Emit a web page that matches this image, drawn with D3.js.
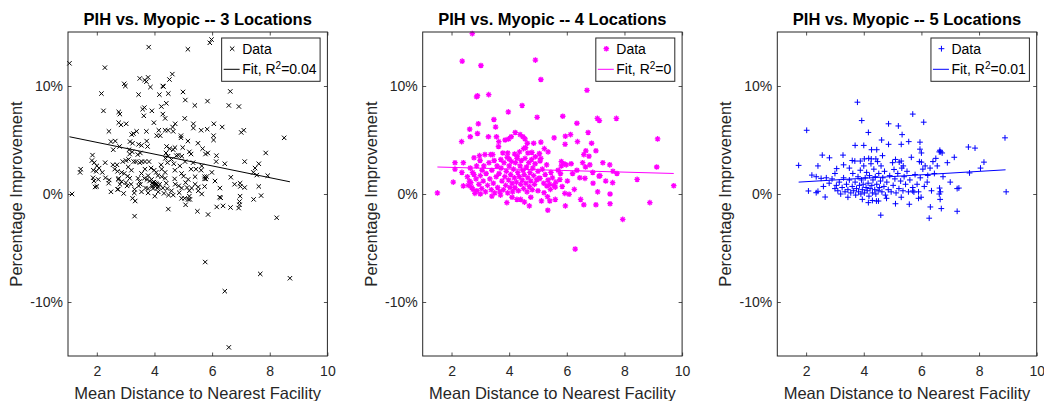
<!DOCTYPE html>
<html>
<head>
<meta charset="utf-8">
<script src="https://cdn.jsdelivr.net/npm/d3@7"></script>
<style>
  html, body { margin: 0; padding: 0; background: #fff; }
  svg { display: block; font-family: "Liberation Sans", Arial, Helvetica, sans-serif; }
</style>
</head>
<body>
<svg id="chart" width="1044" height="401"></svg>
<script>
// ---------------- DATA ----------------
const panelTitles = ["PIH vs. Myopic -- 3 Locations", "PIH vs. Myopic -- 4 Locations", "PIH vs. Myopic -- 5 Locations"];
const xTicks = [2, 4, 6, 8, 10];
const yTicks = [-10, 0, 10];
const yTickLabels = ["-10%", "0%", "10%"];
const xLabel = "Mean Distance to Nearest Facility";
const yLabel = "Percentage Improvement";
const legendData = "Data";
const fitR2 = ["0.04", "0", "0.01"];

// fit lines: [x0, x1], [y0, y1] (percent)
const fit3X = [1.05, 8.70], fit3Y = [5.3, 1.13];
const fit4X = [1.51, 9.71], fit4Y = [2.5, 1.9];
const fit5X = [1.74, 8.92], fit5Y = [1.1, 2.24];

// points [mean distance, % improvement]
const loc3 = [
[5.98,14.3],[5.92,14.0],[3.80,13.6],[5.16,13.4],[1.05,12.1],[2.28,11.7],
[3.49,10.7],[3.78,10.8],[3.72,10.4],[3.66,10.55],[2.95,10.2],[2.99,10.0],[4.62,11.1],[4.52,10.6],[4.29,10.0],[4.31,9.95],[3.86,9.9],
[2.16,9.3],[3.45,9.2],[4.17,9.2],[4.48,9.3],[4.99,9.45],[6.63,9.5],[5.07,8.7],
[2.23,7.7],[2.76,7.6],[2.80,7.4],[3.65,8.0],[3.59,7.85],[3.63,7.24],[3.91,7.7],[4.41,8.4],[4.24,8.1],[4.29,7.4],[4.37,7.0],[5.40,8.2],[5.84,8.6],[6.58,8.2],[6.93,8.1],
[2.76,6.6],[2.84,6.4],[3.02,6.5],[3.98,6.6],[4.72,6.5],[4.63,6.2],[5.05,7.0],[5.35,6.5],[5.35,6.1],[6.06,6.5],[6.35,6.2],
[2.42,5.8],[3.27,5.6],[3.38,5.8],[3.21,5.5],[3.72,5.8],[4.15,5.9],[4.37,5.9],[4.47,5.9],[4.65,5.8],[4.08,5.4],[4.20,5.4],[4.92,5.4],[4.92,5.2],[5.16,4.9],[5.62,5.9],[5.83,6.0],[6.05,5.4],[6.05,5.0],[7.01,5.7],[7.10,5.9],[8.5,5.2],
[2.49,4.85],[2.64,4.9],[3.15,4.85],[3.24,4.7],[3.45,4.6],[3.55,4.5],[3.73,4.9],[3.76,4.4],[2.57,4.1],[2.79,4.4],[3.12,4.1],[3.23,3.9],[3.14,3.7],[3.51,3.8],[3.42,3.65],
[4.42,4.4],[4.53,4.2],[4.40,3.8],[4.47,3.5],[4.38,3.3],[4.71,4.3],[4.65,4.1],[4.76,3.55],[4.83,3.6],[4.98,4.3],[4.95,3.5],[5.21,3.9],[5.27,3.7],[5.51,4.7],[5.67,4.2],[5.77,3.7],[5.85,3.8],[6.15,3.55],[6.14,3.0],[6.44,2.8],[7.13,3.0],[7.86,3.8],[7.62,2.8],[7.49,2.4],[7.43,2.0],[7.55,1.75],[7.93,1.7],
[1.85,3.6],[1.83,3.1],[1.91,2.9],[2.0,2.6],[2.29,2.9],[2.56,2.7],[2.70,2.7],[2.90,3.0],[3.01,3.1],[3.1,3.2],[3.28,3.0],[3.36,3.0],[3.49,2.9],[3.56,3.0],[3.67,3.0],[3.81,3.0],
[3.88,2.4],[3.99,2.2],[4.06,2.0],[4.12,1.7],[4.23,2.7],[4.45,2.9],[4.67,2.8],[4.88,2.6],[5.34,2.9],[5.27,2.3],[5.44,2.3],[5.62,2.2],[5.74,1.6],[5.78,1.4],
[1.44,2.3],[1.42,2.0],[1.88,2.2],[1.98,2.1],[2.08,2.4],[2.19,2.0],[1.87,1.5],[1.90,1.2],[2.05,1.35],[2.0,0.7],[1.94,0.65],[2.30,1.5],[2.43,1.3],[2.41,1.0],
[2.72,2.1],[2.76,1.45],[2.74,1.35],[2.80,0.9],[2.74,0.43],[2.86,1.15],[2.95,1.9],[3.01,1.05],[3.05,0.75],[3.07,1.65],[3.14,1.45],[3.19,0.9],[3.31,0.43],[3.30,0.1],[3.24,-0.4],[3.33,-0.65],
[3.43,1.45],[3.48,1.15],[3.45,0.75],[3.51,0.9],[2.49,0.2],[2.72,0.43],[2.93,0.05],[3.65,1.45],[3.74,1.35],[3.83,1.2],[3.69,0.55],[3.78,0.5],
[3.90,1.35],[3.93,1.05],[3.96,0.9],[4.0,0.8],[4.04,0.7],[3.95,0.5],[4.1,0.55],[4.14,0.65],[3.98,1.1],[4.02,1.0],[4.06,0.95],[4.08,0.85],[3.92,0.7],[4.18,0.9],
[4.37,2.0],[4.37,1.45],[4.41,1.0],[4.44,0.5],[4.29,0.55],[4.33,0.06],[4.49,-0.1],[4.65,-0.1],[4.70,1.4],[4.72,0.9],[4.84,0.75],[4.86,0.12],[5.01,1.65],[5.08,1.05],[5.13,0.6],[4.94,0.55],[5.05,-0.4],[5.21,0.3],[5.29,0.55],[5.21,-0.2],[5.23,-0.5],[5.08,-1.0],
[5.52,0.65],[5.74,1.4],[5.74,0.7],[5.81,1.6],[6.27,0.55],[6.26,-0.3],[6.30,-0.35],[6.65,1.55],[6.78,0.9],[6.97,1.0],[6.98,0.7],[7.13,0.6],[6.97,-0.2],[6.95,-0.7],[6.95,-1.0],[6.92,-1.3],[6.64,-1.25],[6.16,-1.2],[6.38,-1.1],[7.44,-0.5],[7.70,-0.15],[7.62,0.7],
[5.49,-1.6],[5.86,-1.9],[4.48,-1.4],[3.31,-2.05],[8.24,-2.2],[1.14,0.0],
[5.76,-6.3],[7.67,-7.4],[8.70,-7.8],[6.44,-9.0],[6.58,-14.2],
[3.09,2.5],[3.2,2.2],[2.62,2.3],[2.86,2.0],[3.55,1.9],[3.67,2.3],[3.78,1.7],[4.25,1.6],[4.25,2.3],[4.59,3.2],[4.71,2.2],[4.94,1.9],[5.06,3.0],[5.17,1.35],[5.41,1.6],[5.52,0.3],[5.64,0.0],[5.64,2.6],[5.99,2.0],[6.1,1.2],[5.17,-0.5],[4.94,-0.4],[4.59,0.3],[4.13,0.2],[4.01,-0.2],[3.78,0.1],[3.55,0.2],[5.41,0.9]
];

const loc4 = [
[2.72,14.85],[2.37,12.3],[3.02,11.9],[4.91,12.4],[5.10,10.6],[6.70,9.6],[2.87,9.0],[2.90,9.1],[3.29,9.2],[4.45,8.2],[3.97,7.6],[4.97,7.1],[5.86,7.2],[7.06,7.0],[7.13,6.8],[7.72,7.0],[3.47,6.9],[2.93,6.5],[2.63,6.0],[3.53,6.2],[2.90,5.6],[2.65,5.3],[2.35,4.85],[3.28,5.3],[3.56,5.3],[3.64,4.85],[3.63,4.4],[3.86,5.0],[3.98,5.1],[4.07,5.3],[4.21,5.7],[4.38,5.5],[4.48,5.3],[4.55,5.1],[4.63,4.7],[4.85,4.7],[5.1,4.8],[5.56,5.2],[5.95,5.35],[6.13,5.5],[6.35,6.55],[6.37,4.85],[5.94,4.6],[6.74,5.7],[6.86,4.7],[7.01,4.0],[6.66,4.0],[6.77,3.5],[6.59,3.65],[9.15,5.1],[9.12,2.5],[8.44,1.35],[9.71,0.77],[8.88,-0.8],[7.94,-2.35],[6.29,-5.1],[1.51,0.1],[2.06,1.1],[2.12,2.9],[2.41,2.9],[2.12,2.3],[2.36,2.0],
[2.41,0.75],[2.58,0.8],[2.67,1.05],[2.74,0.43],[2.81,0.06],[2.78,3.35],[2.97,3.55],[3.16,3.65],[3.36,3.65],[3.43,3.65],[2.65,2.4],[2.73,2.0],[2.87,2.6],[2.99,3.1],[3.06,2.2],
[3.71,3.2],[3.78,3.8],[3.95,3.8],[4.0,3.25],[4.19,3.7],[4.27,3.3],[4.36,3.9],[4.50,4.2],[4.57,4.3],[4.65,3.8],[4.79,3.85],[4.91,3.45],[5.05,3.75],[5.22,4.2],[5.35,3.9],[5.07,3.05],[5.07,1.45],[5.03,1.45],
[5.81,3.0],[5.90,2.8],[5.81,2.6],[5.98,2.7],[6.15,2.8],[5.76,1.35],[5.84,0.7],[5.93,0.06],[6.08,-0.03],[6.26,0.43],
[5.31,0.74],[5.43,0.43],[5.6,0.64],[5.21,0.12],[5.33,-0.25],[5.41,-0.64],[5.34,-1.5],[5.12,-0.64],[5.6,-0.5],[5.95,-1.1],[6.48,-0.5],[6.59,-1.0],[7.01,-1.0],[7.5,-0.9],[7.5,0.0],[7.59,1.05],[7.49,2.7],[7.6,2.1],[7.74,1.9],[7.12,1.65],[7.15,1.7],[7.07,0.2],[6.91,1.0],[6.63,1.45],[6.65,2.5],
[3.92,-0.8],[4.27,-0.5],[4.53,-0.75],[4.70,-1.1],
[2.55,1.6],[2.62,1.2],[2.7,0.6],[2.78,1.8],[2.85,1.4],[2.88,0.3],[2.95,0.9],[3.0,1.7],[3.05,0.5],[3.1,1.2],[3.12,2.6],[3.18,0.2],[3.2,1.9],[3.25,0.8],[3.3,2.9],[3.33,1.4],[3.38,0.4],[3.4,2.2],[3.45,1.0],[3.48,3.1],[3.5,0.1],[3.55,1.6],[3.58,2.6],[3.6,0.6],[3.65,1.9],[3.68,0.2],[3.72,2.4],[3.75,1.2],[3.8,0.4],[3.82,2.9],[3.85,1.6],[3.88,0.8],[3.9,2.1],[3.93,3.4],[3.95,0.1],[3.98,1.3],[4.0,2.6],[4.03,0.6],[4.05,1.8],[4.08,3.0],[4.1,1.0],[4.12,0.2],[4.15,2.3],[4.18,1.5],[4.2,0.6],[4.22,2.9],[4.25,1.1],[4.28,3.5],[4.3,2.0],[4.32,0.3],[4.35,1.6],[4.38,2.6],[4.4,0.9],[4.42,3.1],[4.45,1.3],[4.48,2.2],[4.5,0.5],[4.52,1.8],[4.55,3.3],[4.58,1.0],[4.6,2.5],[4.62,0.2],[4.65,1.5],[4.68,2.9],[4.7,0.7],[4.72,2.0],[4.75,1.2],[4.78,3.2],[4.8,0.4],[4.82,2.4],[4.85,1.7],[4.88,0.9],[4.9,2.8],[4.95,1.3],[5.0,2.1],[5.1,3.3],[5.15,2.3],[5.2,1.0],[5.25,1.8],[5.3,2.7],[5.35,1.3],[5.4,0.9],[5.45,2.0],[5.5,1.5],[5.55,0.8],[5.62,1.1],[5.7,2.2],[5.78,1.9],[6.02,1.2],[6.2,1.9],[6.35,2.2],[6.45,1.5],[6.55,2.9],[6.8,2.7],[6.9,2.0],[7.25,2.9],[7.35,1.2],
[3.0,0.0],[3.4,-0.2],[4.1,-0.3],[4.4,-0.5],[4.75,-0.3],[3.7,-0.1],[5.0,0.3]
];

const loc5 = [
[3.78,8.5],[5.70,7.4],[3.93,6.8],[4.86,6.5],[5.20,6.3],[6.08,6.65],[2.02,5.9],[4.16,5.7],[5.33,5.5],[4.62,5.0],[4.86,4.6],[5.3,4.6],[5.56,4.85],[5.95,4.8],[5.95,4.15],[6.0,3.8],[8.9,5.2],[7.63,4.35],[7.86,4.25],[6.62,3.9],[6.67,3.9],[6.72,3.8],[7.14,3.4],[8.17,2.95],[8.05,2.4],[7.67,1.95],[8.94,0.2],[1.74,2.65],[2.56,3.6],[2.81,3.35],[3.28,3.6],[2.41,2.6],[3.06,2.35],
[2.08,0.28],[2.35,0.12],[2.41,0.25],[2.66,-0.28],[3.70,4.5],[4.0,4.5],[4.27,4.1],[4.45,4.1],[4.65,3.55],[4.59,-1.96],[4.16,-0.8],[4.44,-0.65],[4.51,-0.65],[4.79,-0.4],[5.1,-0.9],[5.58,-0.95],
[6.22,1.72],[6.63,0.55],[6.62,0.0],[6.66,0.2],[6.65,-0.5],[6.69,-1.35],[6.31,-1.2],[6.27,-2.24],[7.24,-1.6],[7.3,0.55],[7.24,0.5],[5.7,0.28],[5.74,0.18],[5.99,-0.3],
[5.93,3.0],[6.0,2.95],[6.13,2.6],[6.3,2.4],[6.4,3.0],[6.5,3.3],[6.64,4.05],
[3.6,3.1],[3.69,3.05],[3.88,3.05],[4.02,3.25],[4.17,3.3],[4.26,3.25],[4.42,3.25],[5.05,2.27],[5.1,3.2],[5.23,2.95],[5.3,3.05],[5.37,2.6],
[2.2,1.75],[2.35,1.6],
[2.52,1.45],[2.7,1.5],[2.9,1.4],[3.0,0.5],[3.05,0.8],[3.1,0.3],[3.15,1.1],[3.2,0.0],[3.25,0.6],[3.3,1.5],[3.35,0.2],[3.4,0.9],[3.45,0.4],[3.5,1.3],[3.55,0.1],[3.6,0.7],[3.62,1.9],[3.65,0.3],[3.7,1.1],[3.72,-0.1],[3.75,0.5],[3.8,1.6],[3.82,0.2],[3.85,0.8],[3.88,2.2],[3.9,0.0],[3.92,1.3],[3.95,0.4],[3.98,0.9],[4.0,2.6],[4.02,0.1],[4.05,1.5],[4.08,0.6],[4.1,2.0],[4.12,0.3],[4.15,1.0],[4.18,-0.2],[4.2,1.7],[4.22,0.5],[4.25,2.8],[4.28,0.8],[4.3,0.1],[4.32,1.3],[4.35,2.3],[4.38,0.4],[4.4,1.6],[4.42,0.0],[4.45,0.9],[4.48,3.0],[4.5,0.3],[4.52,1.9],[4.55,0.6],[4.58,1.2],[4.6,2.6],[4.63,0.2],[4.66,1.5],[4.7,0.7],[4.72,2.1],[4.75,-0.1],[4.8,1.1],[4.85,0.4],[4.9,1.7],[4.95,0.2],[5.0,2.9],[5.02,0.8],[5.08,1.4],[5.12,0.1],[5.18,1.9],[5.22,0.5],[5.28,1.2],[5.32,2.4],[5.36,0.3],[5.4,1.6],[5.45,0.9],[5.5,2.1],[5.55,0.2],[5.6,1.3],[5.65,3.4],[5.7,0.6],[5.78,1.8],[5.85,0.9],[5.9,0.2],[5.96,1.5],[6.05,2.3],[6.1,0.7],[6.2,1.1],[6.35,0.3],[6.45,1.9],[6.55,2.6],[6.75,1.6],[7.0,1.1],[6.9,2.9],[3.0,1.9],[2.8,1.0],[2.6,0.7],[3.3,2.7],[3.5,2.4],[3.45,-0.3],[3.95,-0.5],[4.3,-0.6],[5.3,-0.3],[5.9,-0.4]
];

// ---------------- CHART ----------------
const panels = [
  {data: loc3, fx: fit3X, fy: fit3Y, r2: fitR2[0], title: panelTitles[0], left: 68,    color: "#000000", marker: "x"},
  {data: loc4, fx: fit4X, fy: fit4Y, r2: fitR2[1], title: panelTitles[1], left: 422.7, color: "#ff00ff", marker: "*"},
  {data: loc5, fx: fit5X, fy: fit5Y, r2: fitR2[2], title: panelTitles[2], left: 777.3, color: "#0000ff", marker: "+"}
];
const W = 259.4, TOP = 32, BOTTOM = 356;
const AX = "#262626";
const svg = d3.select("#chart");

function markerPath(type, s) {
  if (type === "x") return `M${-s},${-s}L${s},${s}M${-s},${s}L${s},${-s}`;
  if (type === "+") return `M${-s},0L${s},0M0,${-s}L0,${s}`;
  const d = s * 0.72;
  return `M${-s},0L${s},0M0,${-s}L0,${s}M${-d},${-d}L${d},${d}M${-d},${d}L${d},${-d}`;
}
const mSize = {"x": 2.2, "+": 2.9, "*": 2.8};
const mWidth = {"x": 1.0, "+": 1.0, "*": 1.3};

panels.forEach(p => {
  const x = d3.scaleLinear().domain([1, 10]).range([p.left, p.left + W]);
  const y = d3.scaleLinear().domain([-15, 15]).range([BOTTOM, TOP]);
  const g = svg.append("g");

  // axes with inward ticks
  const fmt = d => yTickLabels[yTicks.indexOf(d)];
  const ax = [
    g.append("g").attr("transform", `translate(0,${BOTTOM})`).call(d3.axisBottom(x).tickValues(xTicks).tickSize(-3.5).tickPadding(10)),
    g.append("g").attr("transform", `translate(0,${TOP})`).call(d3.axisTop(x).tickValues(xTicks).tickSize(-3.5).tickFormat("")),
    g.append("g").attr("transform", `translate(${p.left},0)`).call(d3.axisLeft(y).tickValues(yTicks).tickSize(-3.5).tickPadding(5).tickFormat(fmt)),
    g.append("g").attr("transform", `translate(${p.left + W},0)`).call(d3.axisRight(y).tickValues(yTicks).tickSize(-3.5).tickFormat(""))
  ];
  ax.forEach(a => {
    a.select(".domain").remove();
    a.selectAll(".tick line").attr("stroke", AX).attr("stroke-width", 0.8);
    a.selectAll("text").attr("fill", AX).style("font-size", "14px").style("font-family", "'Liberation Sans', Arial, sans-serif");
  });

  // points
  g.append("g").selectAll("path").data(p.data).join("path")
    .attr("transform", d => `translate(${x(d[0])},${y(d[1])})`)
    .attr("d", markerPath(p.marker, mSize[p.marker]))
    .attr("fill", "none").attr("stroke", p.color).attr("stroke-width", mWidth[p.marker]);

  // fit line
  g.append("line")
    .attr("x1", x(p.fx[0])).attr("y1", y(p.fy[0]))
    .attr("x2", x(p.fx[1])).attr("y2", y(p.fy[1]))
    .attr("stroke", p.color).attr("stroke-width", 1);

  // box
  g.append("rect").attr("x", p.left).attr("y", TOP).attr("width", W).attr("height", BOTTOM - TOP)
    .attr("fill", "none").attr("stroke", AX).attr("stroke-width", 1);

  // title
  g.append("text").attr("x", p.left + W / 2).attr("y", 25).attr("text-anchor", "middle")
    .style("font-size", "16.5px").style("font-weight", "bold").attr("fill", "#000").text(p.title);
  // x label
  g.append("text").attr("x", p.left + W / 2).attr("y", 399).attr("text-anchor", "middle")
    .style("font-size", "16.5px").attr("fill", AX).text(xLabel);
  // y label
  const ylx = p.left - 46;
  g.append("text").attr("transform", `translate(${ylx},${(TOP + BOTTOM) / 2}) rotate(-90)`)
    .attr("text-anchor", "middle").style("font-size", "16.5px").attr("fill", AX).text(yLabel);

  // legend
  const lg = g.append("g");
  const t1 = lg.append("text").style("font-size", "14px").attr("fill", "#000").text(legendData);
  const t2 = lg.append("text").style("font-size", "14px").attr("fill", "#000");
  t2.append("tspan").text("Fit, R");
  t2.append("tspan").attr("dy", -5).style("font-size", "10px").text("2");
  t2.append("tspan").attr("dy", 5).text("=" + p.r2);
  const tw = Math.max(t1.node().getComputedTextLength(), t2.node().getComputedTextLength());
  const lw = tw + 24;
  const lr = p.left + W - 7.3;
  const ll = lr - lw;
  lg.insert("rect", "text").attr("x", ll).attr("y", 38).attr("width", lw).attr("height", 43.3)
    .attr("fill", "#fff").attr("stroke", AX).attr("stroke-width", 1);
  t1.attr("x", ll + 20.5).attr("y", 53.5);
  t2.attr("x", ll + 20.5).attr("y", 74);
  lg.append("path").attr("transform", `translate(${ll + 10.5},${48.7})`)
    .attr("d", markerPath(p.marker, mSize[p.marker])).attr("fill", "none")
    .attr("stroke", p.color).attr("stroke-width", mWidth[p.marker]);
  lg.append("line").attr("x1", ll + 2).attr("x2", ll + 18).attr("y1", 69.3).attr("y2", 69.3)
    .attr("stroke", p.color).attr("stroke-width", 1);
});
</script>
</body>
</html>
